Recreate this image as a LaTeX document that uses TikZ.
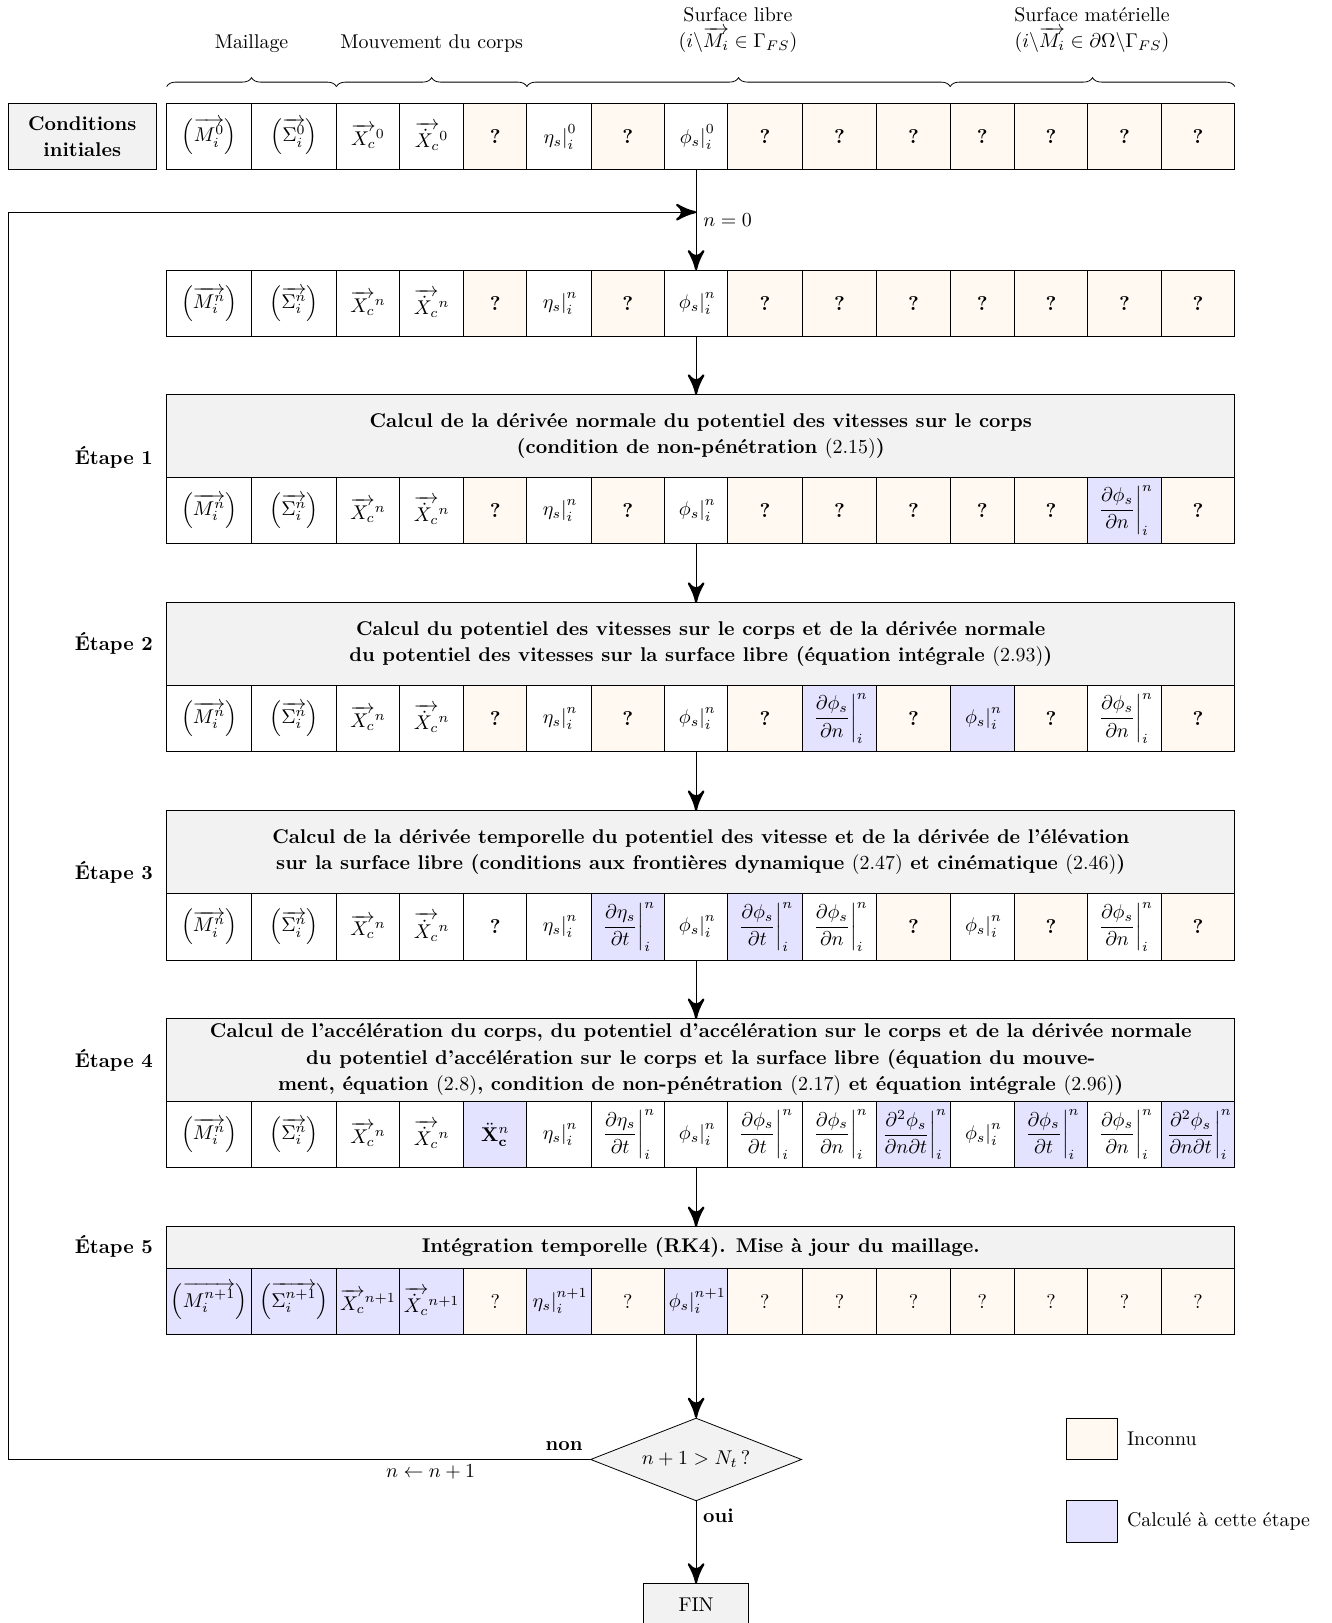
\documentclass[tikz,border=0pt]{standalone}
\usepackage{amsmath}
\usepackage{amssymb}
\usepackage{tikz}
\usetikzlibrary{arrows}
\usetikzlibrary{decorations.markings}
\usetikzlibrary{decorations.pathreplacing}
\usetikzlibrary{positioning}
\usetikzlibrary{shapes.geometric}
\def\px{0.52pt}
\tikzset{fleche/.style = {decoration={markings,
                                      mark=at position 1 with {\arrow[scale=2.8]{stealth'}}},
                          postaction={decorate}}}
\tikzset{cellule/.style = {draw, inner sep=1pt, outer sep=0pt, minimum height=64*\px},
         blanc/.style = {},
         inc/.style = {fill=orange!5},
         calcul/.style = {fill=blue!11},
         etape/.style = {draw, fill=gray!10, align=center, inner sep=0pt, outer sep=0pt,
                         minimum width=1032*\px, font={\bfseries\fontsize{10}{13.3}\selectfont}}}
% colonnes
\def\colx{{202,284,355.5,417,478.5,540,606.5,672.5,739,811,882.5,949,1015.5,1086.5,1157.5}}
\def\colw{{82,82,61,62,61,62,71,61,72,72,71,62,71,71,71}}
\newcommand{\rangee}[3]{%
  \foreach \col/\sty/\txt in {#3} {
    \pgfmathsetmacro\xc{\colx[\col-1]}
    \pgfmathsetmacro\wc{\colw[\col-1]}
    \node [cellule, \sty, minimum width=\wc*\px] (#1c\col) at (\xc, #2) {\txt};
  }}
\newcommand{\Mv}[1]{\left(\overrightarrow{M_i^{#1}}\right)}
\newcommand{\Sv}[1]{\left(\overrightarrow{\Sigma_i^{#1}}\right)}
\newcommand{\Xv}[1]{\overrightarrow{X_c}^{#1}}
\newcommand{\Xp}[1]{\overrightarrow{\dot{X}_c}^{#1}}
\newcommand{\etas}[1]{\left.\eta_s\right|_i^{#1}}
\newcommand{\phis}[1]{\left.\phi_s\right|_i^{#1}}
\newcommand{\dphin}{\left.\dfrac{\partial\phi_s}{\partial n}\right|_i^n}
\newcommand{\dphit}{\left.\dfrac{\partial\phi_s}{\partial t}\right|_i^n}
\newcommand{\detat}{\left.\dfrac{\partial\eta_s}{\partial t}\right|_i^n}
\newcommand{\dphint}{\left.\dfrac{\partial^2\phi_s}{\partial n\partial t}\right|_i^n}
\newcommand{\inc}{\textbf{?}}

\begin{document}
\begin{tikzpicture}[x=\px, y=-\px]
  \useasboundingbox (0, 0) rectangle (1286, 1568);

  % en-tetes
  \node (maillage) at (243, 42) {Maillage};
  \node (mouvement) at (417, 42) {Mouvement du corps};
  \node [align=center, font=\fontsize{10}{13.3}\selectfont] (surflibre) at (713, 29)
        {Surface libre\\$(i\backslash\overrightarrow{M_i}\in\Gamma_{FS})$};
  \node [align=center, font=\fontsize{10}{13.3}\selectfont] (surfmat) at (1055, 29)
        {Surface matérielle\\$(i\backslash\overrightarrow{M_i}\in\partial\Omega\backslash\Gamma_{FS})$};

  \node [draw, fill=gray!10, align=center, inner sep=0pt, minimum width=143*\px, minimum height=64*\px,
         font={\bfseries\fontsize{10}{13.3}\selectfont}] (ci) at (79.5, 132) {Conditions\\initiales};

  \rangee{r0}{132}{1/blanc/{$\Mv{0}$}, 2/blanc/{$\Sv{0}$}, 3/blanc/{$\Xv{0}$}, 4/blanc/{$\Xp{0}$},
    5/inc/\inc, 6/blanc/{$\etas{0}$}, 7/inc/\inc, 8/blanc/{$\phis{0}$}, 9/inc/\inc, 10/inc/\inc,
    11/inc/\inc, 12/inc/\inc, 13/inc/\inc, 14/inc/\inc, 15/inc/\inc}

  \draw [decorate, decoration={brace, amplitude=4.5pt}] ([yshift=8.5pt]r0c1.north west) -- ([yshift=8.5pt]r0c2.north east);
  \draw [decorate, decoration={brace, amplitude=4.5pt}] ([yshift=8.5pt]r0c3.north west) -- ([yshift=8.5pt]r0c5.north east);
  \draw [decorate, decoration={brace, amplitude=4.5pt}] ([yshift=8.5pt]r0c6.north west) -- ([yshift=8.5pt]r0c11.north east);
  \draw [decorate, decoration={brace, amplitude=4.5pt}] ([yshift=8.5pt]r0c12.north west) -- ([yshift=8.5pt]r0c15.north east);

  \rangee{r1}{293}{1/blanc/{$\Mv{n}$}, 2/blanc/{$\Sv{n}$}, 3/blanc/{$\Xv{n}$}, 4/blanc/{$\Xp{n}$},
    5/inc/\inc, 6/blanc/{$\etas{n}$}, 7/inc/\inc, 8/blanc/{$\phis{n}$}, 9/inc/\inc, 10/inc/\inc,
    11/inc/\inc, 12/inc/\inc, 13/inc/\inc, 14/inc/\inc, 15/inc/\inc}

  % etape 1
  \node [etape, minimum height=80*\px] (h1) at (677, 421)
        {Calcul de la dérivée normale du potentiel des vitesses sur le corps\\
         (condition de non-pénétration {\mdseries(2.15)})};
  \node [font=\bfseries] (e1) at (110, 442) {Étape 1};
  \rangee{r2}{493}{1/blanc/{$\Mv{n}$}, 2/blanc/{$\Sv{n}$}, 3/blanc/{$\Xv{n}$}, 4/blanc/{$\Xp{n}$},
    5/inc/\inc, 6/blanc/{$\etas{n}$}, 7/inc/\inc, 8/blanc/{$\phis{n}$}, 9/inc/\inc, 10/inc/\inc,
    11/inc/\inc, 12/inc/\inc, 13/inc/\inc, 14/calcul/{$\dphin$}, 15/inc/\inc}

  % etape 2
  \node [etape, minimum height=80*\px] (h2) at (677, 622)
        {Calcul du potentiel des vitesses sur le corps et de la dérivée normale\\
         du potentiel des vitesses sur la surface libre (équation intégrale {\mdseries(2.93)})};
  \node [font=\bfseries] (e2) at (110, 622) {Étape 2};
  \rangee{r3}{694}{1/blanc/{$\Mv{n}$}, 2/blanc/{$\Sv{n}$}, 3/blanc/{$\Xv{n}$}, 4/blanc/{$\Xp{n}$},
    5/inc/\inc, 6/blanc/{$\etas{n}$}, 7/inc/\inc, 8/blanc/{$\phis{n}$}, 9/inc/\inc, 10/calcul/{$\dphin$},
    11/inc/\inc, 12/calcul/{$\phis{n}$}, 13/inc/\inc, 14/blanc/{$\dphin$}, 15/inc/\inc}

  % etape 3
  \node [etape, minimum height=80*\px] (h3) at (677, 823)
        {Calcul de la dérivée temporelle du potentiel des vitesse et de la dérivée de l'élévation\\
         sur la surface libre (conditions aux frontières dynamique {\mdseries(2.47)} et cinématique {\mdseries(2.46)})};
  \node [font=\bfseries] (e3) at (110, 843) {Étape 3};
  \rangee{r4}{895.5}{1/blanc/{$\Mv{n}$}, 2/blanc/{$\Sv{n}$}, 3/blanc/{$\Xv{n}$}, 4/blanc/{$\Xp{n}$},
    5/blanc/\inc, 6/blanc/{$\etas{n}$}, 7/calcul/{$\detat$}, 8/blanc/{$\phis{n}$}, 9/calcul/{$\dphit$},
    10/blanc/{$\dphin$}, 11/inc/\inc, 12/blanc/{$\phis{n}$}, 13/inc/\inc, 14/blanc/{$\dphin$}, 15/inc/\inc}

  % etape 4
  \node [etape, minimum height=80*\px] (h4) at (677, 1024)
        {Calcul de l'accélération du corps, du potentiel d'accélération sur le corps et de la dérivée normale\\
         du potentiel d'accélération sur le corps et la surface libre (équation du mouve-\\
         ment, équation {\mdseries(2.8)}, condition de non-pénétration {\mdseries(2.17)} et équation intégrale {\mdseries(2.96)})};
  \node [font=\bfseries] (e4) at (110, 1024) {Étape 4};
  \rangee{r5}{1096}{1/blanc/{$\Mv{n}$}, 2/blanc/{$\Sv{n}$}, 3/blanc/{$\Xv{n}$}, 4/blanc/{$\Xp{n}$},
    5/calcul/{$\ddot{\mathbf{X}}_{\mathbf{c}}^n$}, 6/blanc/{$\etas{n}$}, 7/blanc/{$\detat$}, 8/blanc/{$\phis{n}$},
    9/blanc/{$\dphit$}, 10/blanc/{$\dphin$}, 11/calcul/{$\dphint$}, 12/blanc/{$\phis{n}$},
    13/calcul/{$\dphit$}, 14/blanc/{$\dphin$}, 15/calcul/{$\dphint$}}

  % etape 5
  \node [etape, minimum height=40*\px] (h5) at (677, 1205)
        {Intégration temporelle (RK4). Mise à jour du maillage.};
  \node [font=\bfseries] (e5) at (110, 1204) {Étape 5};
  \rangee{r6}{1257}{1/calcul/{$\Mv{n+1}$}, 2/calcul/{$\Sv{n+1}$}, 3/calcul/{$\Xv{n+1}$}, 4/calcul/{$\Xp{n+1}$},
    5/inc/?, 6/calcul/{$\etas{n+1}$}, 7/inc/?, 8/calcul/{$\phis{n+1}$}, 9/inc/?, 10/inc/?,
    11/inc/?, 12/inc/?, 13/inc/?, 14/inc/?, 15/inc/?}

  % test et fin
  \node [diamond, draw, fill=gray!10, aspect=2.55, inner sep=0pt,
         minimum width=204*\px, minimum height=80*\px] (test) at (672.5, 1410) {$n+1>N_t\,?$};
  \node [draw, fill=gray!10, minimum width=101*\px, minimum height=40*\px] (fin) at (672.5, 1550) {FIN};

  % fleches
  \coordinate (boucle) at (672.5, 205);
  \coordinate (coin) at (8, 205);
  \draw [fleche] (r0c8.south) -- (r1c8.north);
  \draw [fleche] (r1c8.south) -- (r1c8.south |- h1.north);
  \draw [fleche] (r2c8.south) -- (r2c8.south |- h2.north);
  \draw [fleche] (r3c8.south) -- (r3c8.south |- h3.north);
  \draw [fleche] (r4c8.south) -- (r4c8.south |- h4.north);
  \draw [fleche] (r5c8.south) -- (r5c8.south |- h5.north);
  \draw [fleche] (r6c8.south) -- (test.north);
  \draw [fleche] (test.south) -- (fin.north);
  \draw [fleche] (test.west) -| (coin) -- (boucle);

  \node (nzero) at (703, 213) {$n=0$};
  \node [font=\bfseries] (non) at (545, 1397) {non};
  \node (incr) at (416, 1422) {$n\leftarrow n+1$};
  \node [font=\bfseries] (oui) at (694, 1464) {oui};

  % legende
  \node [draw, inc, minimum width=50*\px, minimum height=40*\px] (leginc) at (1055, 1390) {};
  \node [anchor=west] (txtinc) at (1082, 1390) {Inconnu};
  \node [draw, calcul, minimum width=50*\px, minimum height=40*\px] (legcal) at (1055, 1470) {};
  \node [anchor=west] (txtcal) at (1082, 1470) {Calculé à cette étape};
\end{tikzpicture}
\end{document}
